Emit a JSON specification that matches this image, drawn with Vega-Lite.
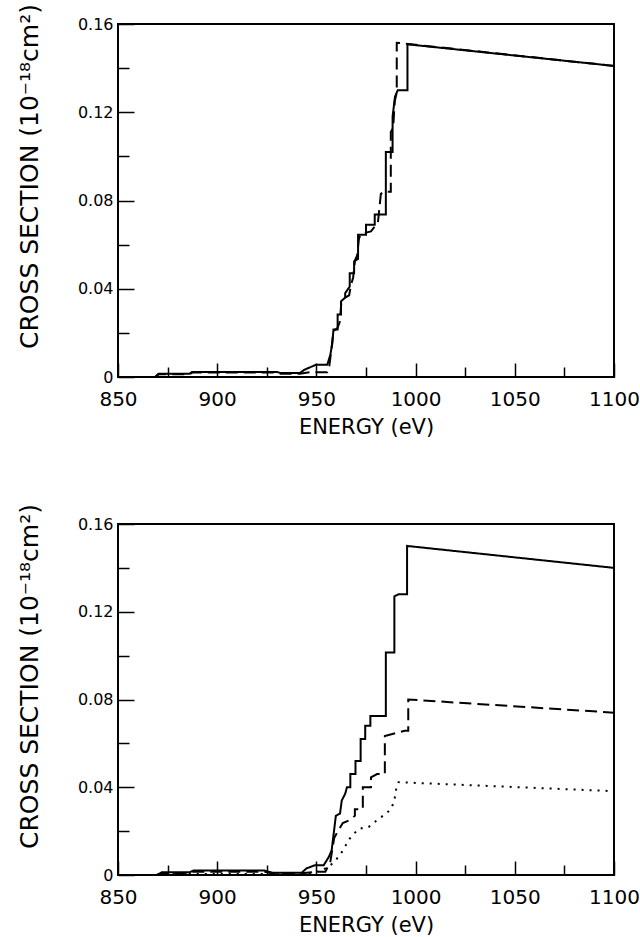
{
  "$schema": "https://vega.github.io/schema/vega-lite/v6.json",
  "background": "white",
  "padding": {"left": 16, "top": 2, "right": 10, "bottom": 0},
  "spacing": 64,
  "config": {
    "font": "DejaVu Sans",
    "view": {"stroke": "black", "strokeWidth": 2},
    "axis": {"domain": false, "grid": false, "tickColor": "black", "tickWidth": 1.5, "labelColor": "black", "titleColor": "black", "titleFontWeight": "normal"}
  },
  "datasets": {
    "curves": [
      {"panel": "top", "series": "solid", "i": 1, "energy": 868.7, "cs": 0},
      {"panel": "top", "series": "solid", "i": 2, "energy": 870.5, "cs": 0.0015},
      {"panel": "top", "series": "solid", "i": 3, "energy": 886, "cs": 0.0015},
      {"panel": "top", "series": "solid", "i": 4, "energy": 887.5, "cs": 0.0023},
      {"panel": "top", "series": "solid", "i": 5, "energy": 930, "cs": 0.0023},
      {"panel": "top", "series": "solid", "i": 6, "energy": 932, "cs": 0.0018},
      {"panel": "top", "series": "solid", "i": 7, "energy": 941.6, "cs": 0.0018},
      {"panel": "top", "series": "solid", "i": 8, "energy": 944, "cs": 0.0033},
      {"panel": "top", "series": "solid", "i": 9, "energy": 946.8, "cs": 0.0044},
      {"panel": "top", "series": "solid", "i": 10, "energy": 950, "cs": 0.0056},
      {"panel": "top", "series": "solid", "i": 11, "energy": 955.5, "cs": 0.0056},
      {"panel": "top", "series": "solid", "i": 12, "energy": 957, "cs": 0.010},
      {"panel": "top", "series": "solid", "i": 13, "energy": 958, "cs": 0.015},
      {"panel": "top", "series": "solid", "i": 14, "energy": 958.6, "cs": 0.0215},
      {"panel": "top", "series": "solid", "i": 15, "energy": 960.7, "cs": 0.0215},
      {"panel": "top", "series": "solid", "i": 16, "energy": 960.7, "cs": 0.0283},
      {"panel": "top", "series": "solid", "i": 17, "energy": 962.4, "cs": 0.0283},
      {"panel": "top", "series": "solid", "i": 18, "energy": 962.4, "cs": 0.0343},
      {"panel": "top", "series": "solid", "i": 19, "energy": 964.5, "cs": 0.036},
      {"panel": "top", "series": "solid", "i": 20, "energy": 964.5, "cs": 0.038},
      {"panel": "top", "series": "solid", "i": 21, "energy": 966.8, "cs": 0.041},
      {"panel": "top", "series": "solid", "i": 22, "energy": 966.8, "cs": 0.047},
      {"panel": "top", "series": "solid", "i": 23, "energy": 969, "cs": 0.047},
      {"panel": "top", "series": "solid", "i": 24, "energy": 969, "cs": 0.0524},
      {"panel": "top", "series": "solid", "i": 25, "energy": 971, "cs": 0.0535},
      {"panel": "top", "series": "solid", "i": 26, "energy": 971, "cs": 0.0645},
      {"panel": "top", "series": "solid", "i": 27, "energy": 975, "cs": 0.0645},
      {"panel": "top", "series": "solid", "i": 28, "energy": 975, "cs": 0.069},
      {"panel": "top", "series": "solid", "i": 29, "energy": 979.4, "cs": 0.069},
      {"panel": "top", "series": "solid", "i": 30, "energy": 979.4, "cs": 0.0736},
      {"panel": "top", "series": "solid", "i": 31, "energy": 985, "cs": 0.0736},
      {"panel": "top", "series": "solid", "i": 32, "energy": 985, "cs": 0.102},
      {"panel": "top", "series": "solid", "i": 33, "energy": 988.4, "cs": 0.102},
      {"panel": "top", "series": "solid", "i": 34, "energy": 988.4, "cs": 0.118},
      {"panel": "top", "series": "solid", "i": 35, "energy": 989.6, "cs": 0.127},
      {"panel": "top", "series": "solid", "i": 36, "energy": 991, "cs": 0.13},
      {"panel": "top", "series": "solid", "i": 37, "energy": 995.9, "cs": 0.13},
      {"panel": "top", "series": "solid", "i": 38, "energy": 995.9, "cs": 0.1508},
      {"panel": "top", "series": "solid", "i": 39, "energy": 1100, "cs": 0.141},

      {"panel": "top", "series": "dashed", "i": 1, "energy": 868.7, "cs": 0},
      {"panel": "top", "series": "dashed", "i": 2, "energy": 870.5, "cs": 0.0012},
      {"panel": "top", "series": "dashed", "i": 3, "energy": 886, "cs": 0.0012},
      {"panel": "top", "series": "dashed", "i": 4, "energy": 887.5, "cs": 0.002},
      {"panel": "top", "series": "dashed", "i": 5, "energy": 930, "cs": 0.002},
      {"panel": "top", "series": "dashed", "i": 6, "energy": 932, "cs": 0.0015},
      {"panel": "top", "series": "dashed", "i": 7, "energy": 941.6, "cs": 0.0015},
      {"panel": "top", "series": "dashed", "i": 8, "energy": 947, "cs": 0.0022},
      {"panel": "top", "series": "dashed", "i": 9, "energy": 955.5, "cs": 0.0022},
      {"panel": "top", "series": "dashed", "i": 10, "energy": 956.5, "cs": 0.005},
      {"panel": "top", "series": "dashed", "i": 11, "energy": 957.5, "cs": 0.012},
      {"panel": "top", "series": "dashed", "i": 12, "energy": 958.6, "cs": 0.021},
      {"panel": "top", "series": "dashed", "i": 13, "energy": 960.5, "cs": 0.022},
      {"panel": "top", "series": "dashed", "i": 14, "energy": 961.8, "cs": 0.025},
      {"panel": "top", "series": "dashed", "i": 15, "energy": 962.5, "cs": 0.033},
      {"panel": "top", "series": "dashed", "i": 16, "energy": 964.5, "cs": 0.036},
      {"panel": "top", "series": "dashed", "i": 17, "energy": 966.5, "cs": 0.037},
      {"panel": "top", "series": "dashed", "i": 18, "energy": 967.5, "cs": 0.042},
      {"panel": "top", "series": "dashed", "i": 19, "energy": 968.5, "cs": 0.045},
      {"panel": "top", "series": "dashed", "i": 20, "energy": 969.5, "cs": 0.053},
      {"panel": "top", "series": "dashed", "i": 21, "energy": 970.5, "cs": 0.055},
      {"panel": "top", "series": "dashed", "i": 22, "energy": 971.5, "cs": 0.063},
      {"panel": "top", "series": "dashed", "i": 23, "energy": 973, "cs": 0.065},
      {"panel": "top", "series": "dashed", "i": 24, "energy": 977.5, "cs": 0.066},
      {"panel": "top", "series": "dashed", "i": 25, "energy": 981, "cs": 0.07},
      {"panel": "top", "series": "dashed", "i": 26, "energy": 982.5, "cs": 0.083},
      {"panel": "top", "series": "dashed", "i": 27, "energy": 984, "cs": 0.084},
      {"panel": "top", "series": "dashed", "i": 28, "energy": 987.5, "cs": 0.084},
      {"panel": "top", "series": "dashed", "i": 29, "energy": 987.5, "cs": 0.111},
      {"panel": "top", "series": "dashed", "i": 30, "energy": 988.7, "cs": 0.113},
      {"panel": "top", "series": "dashed", "i": 31, "energy": 989.5, "cs": 0.125},
      {"panel": "top", "series": "dashed", "i": 32, "energy": 990.5, "cs": 0.129},
      {"panel": "top", "series": "dashed", "i": 33, "energy": 990.5, "cs": 0.1515},
      {"panel": "top", "series": "dashed", "i": 34, "energy": 1100, "cs": 0.141},

      {"panel": "bottom", "series": "solid", "i": 1, "energy": 869.6, "cs": 0},
      {"panel": "bottom", "series": "solid", "i": 2, "energy": 872, "cs": 0.0012},
      {"panel": "bottom", "series": "solid", "i": 3, "energy": 886, "cs": 0.0012},
      {"panel": "bottom", "series": "solid", "i": 4, "energy": 888, "cs": 0.002},
      {"panel": "bottom", "series": "solid", "i": 5, "energy": 924, "cs": 0.002},
      {"panel": "bottom", "series": "solid", "i": 6, "energy": 928, "cs": 0.001},
      {"panel": "bottom", "series": "solid", "i": 7, "energy": 942.5, "cs": 0.001},
      {"panel": "bottom", "series": "solid", "i": 8, "energy": 945, "cs": 0.003},
      {"panel": "bottom", "series": "solid", "i": 9, "energy": 949.4, "cs": 0.0045},
      {"panel": "bottom", "series": "solid", "i": 10, "energy": 953.7, "cs": 0.0045},
      {"panel": "bottom", "series": "solid", "i": 11, "energy": 956.3, "cs": 0.0083},
      {"panel": "bottom", "series": "solid", "i": 12, "energy": 957.7, "cs": 0.0113},
      {"panel": "bottom", "series": "solid", "i": 13, "energy": 959, "cs": 0.021},
      {"panel": "bottom", "series": "solid", "i": 14, "energy": 959.8, "cs": 0.027},
      {"panel": "bottom", "series": "solid", "i": 15, "energy": 961.9, "cs": 0.028},
      {"panel": "bottom", "series": "solid", "i": 16, "energy": 962.8, "cs": 0.034},
      {"panel": "bottom", "series": "solid", "i": 17, "energy": 964.5, "cs": 0.037},
      {"panel": "bottom", "series": "solid", "i": 18, "energy": 965.4, "cs": 0.040},
      {"panel": "bottom", "series": "solid", "i": 19, "energy": 967.1, "cs": 0.040},
      {"panel": "bottom", "series": "solid", "i": 20, "energy": 967.1, "cs": 0.046},
      {"panel": "bottom", "series": "solid", "i": 21, "energy": 969.7, "cs": 0.046},
      {"panel": "bottom", "series": "solid", "i": 22, "energy": 969.7, "cs": 0.052},
      {"panel": "bottom", "series": "solid", "i": 23, "energy": 972.3, "cs": 0.052},
      {"panel": "bottom", "series": "solid", "i": 24, "energy": 972.3, "cs": 0.062},
      {"panel": "bottom", "series": "solid", "i": 25, "energy": 974.6, "cs": 0.062},
      {"panel": "bottom", "series": "solid", "i": 26, "energy": 974.6, "cs": 0.068},
      {"panel": "bottom", "series": "solid", "i": 27, "energy": 977.2, "cs": 0.068},
      {"panel": "bottom", "series": "solid", "i": 28, "energy": 977.2, "cs": 0.0725},
      {"panel": "bottom", "series": "solid", "i": 29, "energy": 985, "cs": 0.0725},
      {"panel": "bottom", "series": "solid", "i": 30, "energy": 985, "cs": 0.1014},
      {"panel": "bottom", "series": "solid", "i": 31, "energy": 989.3, "cs": 0.1014},
      {"panel": "bottom", "series": "solid", "i": 32, "energy": 989.3, "cs": 0.127},
      {"panel": "bottom", "series": "solid", "i": 33, "energy": 991.4, "cs": 0.128},
      {"panel": "bottom", "series": "solid", "i": 34, "energy": 995.7, "cs": 0.128},
      {"panel": "bottom", "series": "solid", "i": 35, "energy": 995.7, "cs": 0.150},
      {"panel": "bottom", "series": "solid", "i": 36, "energy": 1100, "cs": 0.140},

      {"panel": "bottom", "series": "dashed", "i": 1, "energy": 869.6, "cs": 0},
      {"panel": "bottom", "series": "dashed", "i": 2, "energy": 872, "cs": 0.0008},
      {"panel": "bottom", "series": "dashed", "i": 3, "energy": 886, "cs": 0.0008},
      {"panel": "bottom", "series": "dashed", "i": 4, "energy": 888, "cs": 0.0015},
      {"panel": "bottom", "series": "dashed", "i": 5, "energy": 924, "cs": 0.0015},
      {"panel": "bottom", "series": "dashed", "i": 6, "energy": 928, "cs": 0.0008},
      {"panel": "bottom", "series": "dashed", "i": 7, "energy": 942.5, "cs": 0.0008},
      {"panel": "bottom", "series": "dashed", "i": 8, "energy": 950, "cs": 0.0015},
      {"panel": "bottom", "series": "dashed", "i": 9, "energy": 954.5, "cs": 0.0015},
      {"panel": "bottom", "series": "dashed", "i": 10, "energy": 957, "cs": 0.006},
      {"panel": "bottom", "series": "dashed", "i": 11, "energy": 959, "cs": 0.017},
      {"panel": "bottom", "series": "dashed", "i": 12, "energy": 961.5, "cs": 0.021},
      {"panel": "bottom", "series": "dashed", "i": 13, "energy": 963.3, "cs": 0.0237},
      {"panel": "bottom", "series": "dashed", "i": 14, "energy": 966.8, "cs": 0.025},
      {"panel": "bottom", "series": "dashed", "i": 15, "energy": 969.4, "cs": 0.027},
      {"panel": "bottom", "series": "dashed", "i": 16, "energy": 969.4, "cs": 0.030},
      {"panel": "bottom", "series": "dashed", "i": 17, "energy": 973.4, "cs": 0.030},
      {"panel": "bottom", "series": "dashed", "i": 18, "energy": 973.4, "cs": 0.040},
      {"panel": "bottom", "series": "dashed", "i": 19, "energy": 977.5, "cs": 0.040},
      {"panel": "bottom", "series": "dashed", "i": 20, "energy": 977.5, "cs": 0.0445},
      {"panel": "bottom", "series": "dashed", "i": 21, "energy": 980.6, "cs": 0.046},
      {"panel": "bottom", "series": "dashed", "i": 22, "energy": 984.5, "cs": 0.046},
      {"panel": "bottom", "series": "dashed", "i": 23, "energy": 984.5, "cs": 0.0634},
      {"panel": "bottom", "series": "dashed", "i": 24, "energy": 994.5, "cs": 0.0657},
      {"panel": "bottom", "series": "dashed", "i": 25, "energy": 996.3, "cs": 0.0657},
      {"panel": "bottom", "series": "dashed", "i": 26, "energy": 996.3, "cs": 0.080},
      {"panel": "bottom", "series": "dashed", "i": 27, "energy": 1100, "cs": 0.074},

      {"panel": "bottom", "series": "dotted", "i": 1, "energy": 869.6, "cs": 0},
      {"panel": "bottom", "series": "dotted", "i": 2, "energy": 872, "cs": 0.0005},
      {"panel": "bottom", "series": "dotted", "i": 3, "energy": 940, "cs": 0.0005},
      {"panel": "bottom", "series": "dotted", "i": 4, "energy": 948, "cs": 0.0008},
      {"panel": "bottom", "series": "dotted", "i": 5, "energy": 952.9, "cs": 0.0023},
      {"panel": "bottom", "series": "dotted", "i": 6, "energy": 956.3, "cs": 0.0038},
      {"panel": "bottom", "series": "dotted", "i": 7, "energy": 959.8, "cs": 0.0068},
      {"panel": "bottom", "series": "dotted", "i": 8, "energy": 962.4, "cs": 0.0098},
      {"panel": "bottom", "series": "dotted", "i": 9, "energy": 966.8, "cs": 0.0166},
      {"panel": "bottom", "series": "dotted", "i": 10, "energy": 971.1, "cs": 0.021},
      {"panel": "bottom", "series": "dotted", "i": 11, "energy": 976.3, "cs": 0.0219},
      {"panel": "bottom", "series": "dotted", "i": 12, "energy": 980.6, "cs": 0.025},
      {"panel": "bottom", "series": "dotted", "i": 13, "energy": 985, "cs": 0.028},
      {"panel": "bottom", "series": "dotted", "i": 14, "energy": 987.6, "cs": 0.030},
      {"panel": "bottom", "series": "dotted", "i": 15, "energy": 989.3, "cs": 0.034},
      {"panel": "bottom", "series": "dotted", "i": 16, "energy": 990.2, "cs": 0.039},
      {"panel": "bottom", "series": "dotted", "i": 17, "energy": 991.4, "cs": 0.0423},
      {"panel": "bottom", "series": "dotted", "i": 18, "energy": 1100, "cs": 0.0382}
    ]
  },
  "vconcat": [
    {
      "width": 496,
      "height": 353,
      "data": {"name": "curves"},
      "transform": [{"filter": "datum.panel == 'top'"}],
      "mark": {"type": "line", "color": "black", "strokeWidth": 2, "clip": true},
      "encoding": {
        "x": {"field": "energy", "type": "quantitative", "scale": {"domain": [850, 1100], "nice": false, "zero": false},
          "axis": {"title": "ENERGY (eV)", "values": [850, 875, 900, 925, 950, 975, 1000, 1025, 1050, 1075, 1100],
            "labelExpr": "datum.value % 50 == 0 ? datum.label : ''", "format": "d",
            "tickSize": {"condition": {"test": "datum.value % 50 == 0", "value": -14}, "value": -10},
            "labelFontSize": 20, "labelPadding": 26, "titleFontSize": 21, "titlePadding": 7, "labelFlush": false}},
        "y": {"field": "cs", "type": "quantitative", "scale": {"domain": [0, 0.16], "nice": false},
          "axis": {"title": "CROSS SECTION (10⁻¹⁸cm²)", "values": [0, 0.02, 0.04, 0.06, 0.08, 0.1, 0.12, 0.14, 0.16],
            "labelExpr": "datum.value == 0 ? '0' : (round(datum.value * 100) % 4 == 0 ? format(datum.value, '.2f') : '')",
            "tickSize": {"condition": {"test": "round(datum.value * 100) % 4 == 0", "value": -16}, "value": -11},
            "labelFontSize": 16, "labelPadding": 21, "titleFontSize": 25, "titlePadding": 35, "titleY": 152}},
        "order": {"field": "i", "type": "quantitative"},
        "strokeDash": {"field": "series", "type": "nominal", "scale": {"domain": ["solid", "dashed", "dotted"], "range": [[1, 0], [12, 6], [2, 6]]}, "legend": null}
      }
    },
    {
      "width": 496,
      "height": 351,
      "data": {"name": "curves"},
      "transform": [{"filter": "datum.panel == 'bottom'"}],
      "mark": {"type": "line", "color": "black", "strokeWidth": 2, "clip": true},
      "encoding": {
        "x": {"field": "energy", "type": "quantitative", "scale": {"domain": [850, 1100], "nice": false, "zero": false},
          "axis": {"title": "ENERGY (eV)", "values": [850, 875, 900, 925, 950, 975, 1000, 1025, 1050, 1075, 1100],
            "labelExpr": "datum.value % 50 == 0 ? datum.label : ''", "format": "d",
            "tickSize": {"condition": {"test": "datum.value % 50 == 0", "value": -14}, "value": -10},
            "labelFontSize": 20, "labelPadding": 26, "titleFontSize": 21, "titlePadding": 7, "labelFlush": false}},
        "y": {"field": "cs", "type": "quantitative", "scale": {"domain": [0, 0.16], "nice": false},
          "axis": {"title": "CROSS SECTION (10⁻¹⁸cm²)", "values": [0, 0.02, 0.04, 0.06, 0.08, 0.1, 0.12, 0.14, 0.16],
            "labelExpr": "datum.value == 0 ? '0' : (round(datum.value * 100) % 4 == 0 ? format(datum.value, '.2f') : '')",
            "tickSize": {"condition": {"test": "round(datum.value * 100) % 4 == 0", "value": -16}, "value": -11},
            "labelFontSize": 16, "labelPadding": 21, "titleFontSize": 25, "titlePadding": 35, "titleY": 152}},
        "order": {"field": "i", "type": "quantitative"},
        "strokeDash": {"field": "series", "type": "nominal", "scale": {"domain": ["solid", "dashed", "dotted"], "range": [[1, 0], [12, 6], [2, 6]]}, "legend": null}
      }
    }
  ]
}
